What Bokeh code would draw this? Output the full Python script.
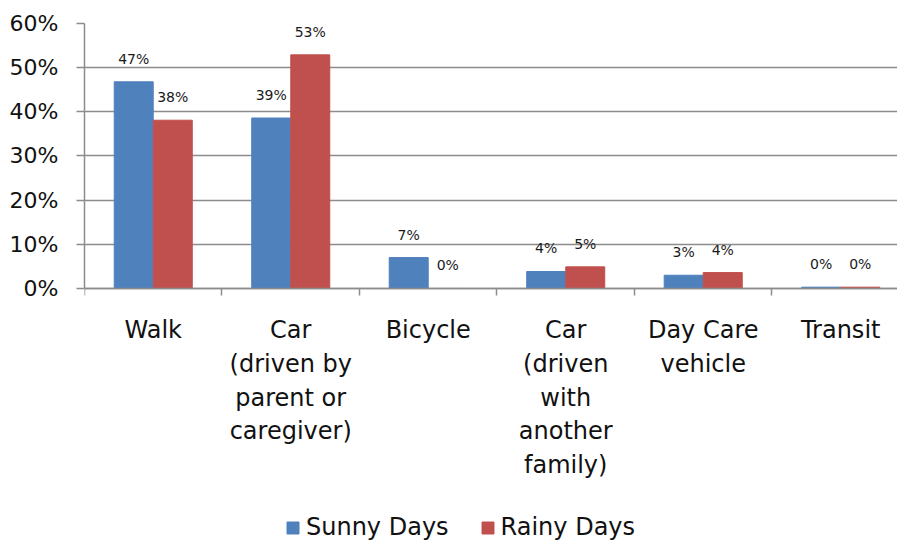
import numpy as np
from bokeh.plotting import figure
from bokeh.models import (ColumnDataSource, Range1d, FixedTicker, NumeralTickFormatter,
                          Legend, LegendItem)
from bokeh.core.properties import value
from bokeh.transform import dodge
from bokeh.embed import file_html
from bokeh.resources import INLINE

categories = ["Walk", "Car\n(driven by\nparent or\ncaregiver)", "Bicycle",
              "Car\n(driven\nwith\nanother\nfamily)", "Day Care\nvehicle", "Transit"]
sunny = [0.468, 0.386, 0.070, 0.0385, 0.030, 0.003]
rainy = [0.381, 0.529, 0.0, 0.049, 0.036, 0.003]
series_names = ["Sunny Days", "Rainy Days"]
y_ticks = [0.0, 0.1, 0.2, 0.3, 0.4, 0.5, 0.6]

BLUE = "#4F81BD"
RED = "#C0504D"
GRID = "#8C8C8C"
FONT = "DejaVu Sans"

idx = np.arange(len(categories)) + 0.5
src = ColumnDataSource(dict(
    x=idx,
    sunny=sunny,
    rainy=rainy,
    sunny_lbl=["{:.0%}".format(v) for v in sunny],
    rainy_lbl=["{:.0%}".format(v) for v in rainy],
))

# frame spans the whole lower area; the value axis covers 0..60% in its top 265 px
p = figure(frame_width=813, frame_height=520, min_border_left=84, min_border_right=0,
           min_border_top=23, min_border_bottom=0,
           x_range=Range1d(0, 5.913), y_range=Range1d(-0.5774, 0.6),
           output_backend="svg", toolbar_location=None)
p.outline_line_color = None
p.background_fill_color = "white"
p.border_fill_color = "white"

bw = 0.2836
off = 0.142
r1 = p.vbar(x=dodge("x", -off), top="sunny", width=bw, source=src,
            fill_color=BLUE, line_color=BLUE)
r2 = p.vbar(x=dodge("x", off), top="rainy", width=bw, source=src,
            fill_color=RED, line_color=RED)

p.text(x=dodge("x", -off), y="sunny", text="sunny_lbl", source=src,
       text_align="center", text_baseline="alphabetic", y_offset=-23,
       text_font_size="14px", text_font=value(FONT), text_color="#1a1a1a")
p.text(x=dodge("x", off), y="rainy", text="rainy_lbl", source=src,
       text_align="center", text_baseline="alphabetic", y_offset=-23,
       text_font_size="14px", text_font=value(FONT), text_color="#1a1a1a")

# grid
p.xgrid.grid_line_color = None
p.ygrid.grid_line_color = GRID
p.ygrid.grid_line_width = 1.5
p.ygrid.ticker = FixedTicker(ticks=y_ticks)

# y axis
ya = p.yaxis[0]
ya.ticker = FixedTicker(ticks=y_ticks)
ya.bounds = (0, 0.6)
ya.formatter = NumeralTickFormatter(format="0%")
ya.axis_line_color = GRID
ya.axis_line_width = 1.5
ya.major_tick_line_color = GRID
ya.major_tick_line_width = 1.5
ya.major_tick_out = 8
ya.major_tick_in = 0
ya.minor_tick_line_color = None
ya.major_label_standoff = 18
ya.major_label_text_font = FONT
ya.major_label_text_font_size = "22px"
ya.major_label_text_color = "#111111"

# x axis, pinned at the 0% line
xa = p.xaxis[0]
xa.fixed_location = 0
xa.ticker = FixedTicker(ticks=list(idx), minor_ticks=list(np.arange(len(categories) + 1)))
xa.major_label_overrides = {float(v): c for v, c in zip(idx, categories)}
xa.axis_line_color = GRID
xa.axis_line_width = 1.5
xa.major_tick_line_color = None
xa.major_tick_out = 0
xa.major_tick_in = 0
xa.minor_tick_line_color = GRID
xa.minor_tick_line_width = 1.5
xa.minor_tick_out = 7
xa.minor_tick_in = 0
xa.major_label_standoff = 21
xa.major_label_text_font = FONT
xa.major_label_text_font_size = "24px"
xa.major_label_text_color = "#111111"
xa.major_label_text_line_height = 1.2

legend = Legend(items=[LegendItem(label=series_names[0], renderers=[r1]),
                       LegendItem(label=series_names[1], renderers=[r2])],
                orientation="horizontal", location=(201, 2),
                glyph_width=15, glyph_height=15, label_standoff=6, spacing=31,
                label_text_font=FONT, label_text_font_size="24px",
                label_text_color="#111111", border_line_color=None,
                background_fill_alpha=0, padding=0, margin=0)
p.add_layout(legend, "center")

open("out.html", "w").write(file_html(p, INLINE))
